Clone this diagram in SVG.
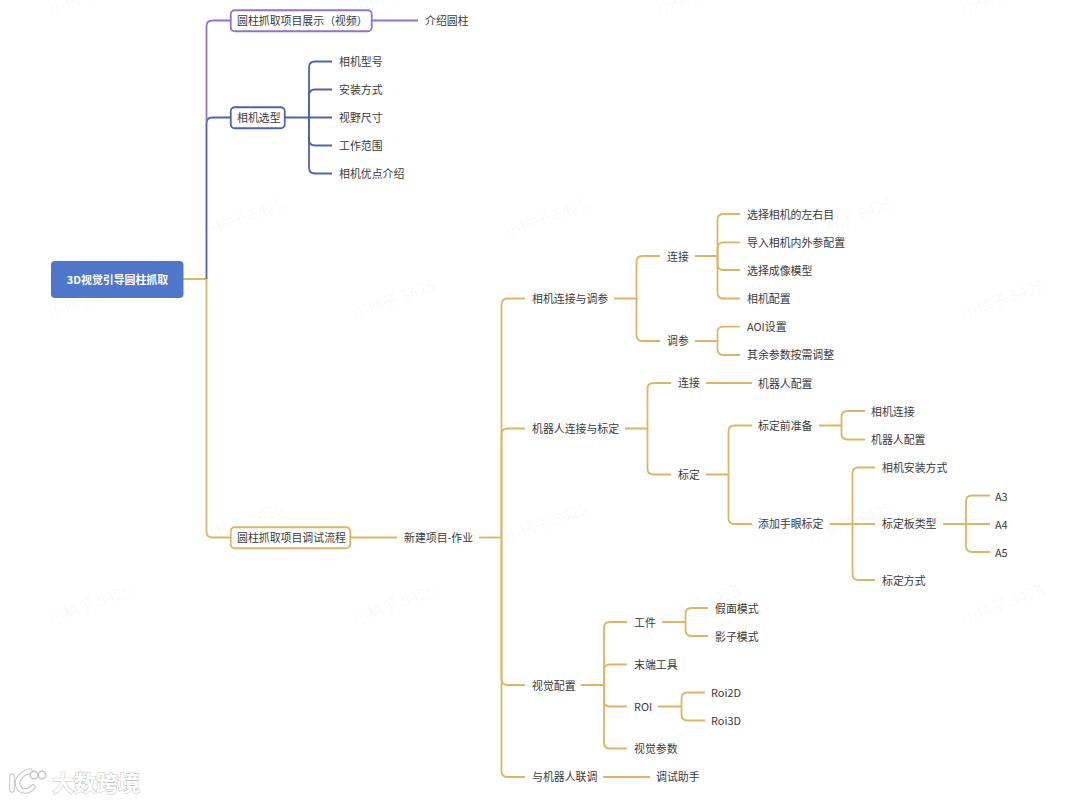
<svg xmlns="http://www.w3.org/2000/svg" width="1080" height="803" viewBox="0 0 1080 803">
<style>
text{font-family:"Noto Sans CJK SC","Noto Sans",sans-serif;font-size:10.9px;fill:#3a3a3a}
.root{font-size:10.9px;font-weight:700;fill:#fff;text-anchor:middle}
.wm{font-size:16px;fill:#000;fill-opacity:.04}
.e{fill:none;stroke-width:1.8;stroke:#dcb661}
.p{stroke:#9273c9}.b{stroke:#5062aa}
.box{fill:#fff;stroke-width:1.8}
.brand{font-size:22px;font-weight:700;fill:#fff;stroke:#c4c4c4;stroke-width:1.1;paint-order:stroke}
.lg{fill:none;stroke-linecap:round}
</style>
<rect width="1080" height="803" fill="#fff"/>
<g id="watermarks">
<text class="wm" transform="translate(51,15) rotate(-20)">小橘子 8425</text>
<text class="wm" transform="translate(355,15) rotate(-20)">小橘子 8425</text>
<text class="wm" transform="translate(660,15) rotate(-20)">小橘子 8425</text>
<text class="wm" transform="translate(964,15) rotate(-20)">小橘子 8425</text>
<text class="wm" transform="translate(203,238) rotate(-20)">小橘子 8425</text>
<text class="wm" transform="translate(507,238) rotate(-20)">小橘子 8425</text>
<text class="wm" transform="translate(812,238) rotate(-20)">小橘子 8425</text>
<text class="wm" transform="translate(51,320) rotate(-20)">小橘子 8425</text>
<text class="wm" transform="translate(355,320) rotate(-20)">小橘子 8425</text>
<text class="wm" transform="translate(964,320) rotate(-20)">小橘子 8425</text>
<text class="wm" transform="translate(203,543) rotate(-20)">小橘子 8425</text>
<text class="wm" transform="translate(507,543) rotate(-20)">小橘子 8425</text>
<text class="wm" transform="translate(812,543) rotate(-20)">小橘子 8425</text>
<text class="wm" transform="translate(51,625) rotate(-20)">小橘子 8425</text>
<text class="wm" transform="translate(355,625) rotate(-20)">小橘子 8425</text>
<text class="wm" transform="translate(660,625) rotate(-20)">小橘子 8425</text>
<text class="wm" transform="translate(964,625) rotate(-20)">小橘子 8425</text>
</g>
<g id="connectors">
<path class="e" d="M183 279H206.5V532Q206.500 537.500 212.500 537.500H231"/>
<path class="e b" d="M206.500 279V123.500Q206.500 117.500 212.500 117.500H231"/>
<path class="e p" d="M206.500 123V26.500Q206.500 20.500 212.500 20.500H231"/>
<path class="e p" d="M372 20.500H418"/>
<path class="e b" d="M285 117.500H332"/>
<path class="e b" d="M309 117.500V67.500Q309 61.500 315 61.500H332"/>
<path class="e b" d="M309 117.500V95.500Q309 89.500 315 89.500H332"/>
<path class="e b" d="M309 117.500V139.500Q309 145.500 315 145.500H332"/>
<path class="e b" d="M309 117.500V167.500Q309 173.500 315 173.500H332"/>
<path class="e" d="M350 537.500H397"/>
<path class="e" d="M479 537.500H501.500"/>
<path class="e" d="M501.500 537.500V304.500Q501.500 298.500 507.500 298.500H525"/>
<path class="e" d="M501.500 537.500V434.500Q501.500 428.500 507.500 428.500H525"/>
<path class="e" d="M501.500 537.500V679Q501.500 685 507.500 685H525"/>
<path class="e" d="M501.500 537.500V771Q501.500 777 507.500 777H525"/>
<path class="e" d="M614 298.500H636.500V262Q636.500 256 642.500 256H660"/>
<path class="e" d="M636.500 298.500V335Q636.500 341 642.500 341H660"/>
<path class="e" d="M695 256H717.500V220Q717.500 214 723.500 214H740"/>
<path class="e" d="M717.500 256V248.300Q717.500 242.300 723.500 242.300H740"/>
<path class="e" d="M717.500 256V264Q717.500 270 723.500 270H740"/>
<path class="e" d="M717.500 256V292.500Q717.500 298.500 723.500 298.500H740"/>
<path class="e" d="M695 341H717.500V332.700Q717.500 326.700 723.500 326.700H740"/>
<path class="e" d="M717.500 341V349Q717.500 355 723.500 355H740"/>
<path class="e" d="M625 428.500H647.500V389Q647.500 383 653.500 383H671"/>
<path class="e" d="M647.500 428.500V468.500Q647.500 474.500 653.500 474.500H671"/>
<path class="e" d="M706 383H752"/>
<path class="e" d="M706 474.500H728.500V431.500Q728.500 425.500 734.500 425.500H752"/>
<path class="e" d="M728.500 474.500V518Q728.500 524 734.500 524H752"/>
<path class="e" d="M819 425.500H841.500V417Q841.500 411 847.500 411H865"/>
<path class="e" d="M841.500 425.500V433.500Q841.500 439.500 847.500 439.500H865"/>
<path class="e" d="M830 524H875"/>
<path class="e" d="M852.500 524V473.500Q852.500 467.500 858.500 467.500H875"/>
<path class="e" d="M852.500 524V574Q852.500 580 858.500 580H875"/>
<path class="e" d="M943 524H990"/>
<path class="e" d="M966 524V501.500Q966 495.500 972 495.500H990"/>
<path class="e" d="M966 524V546Q966 552 972 552H990"/>
<path class="e" d="M581 685H604V628Q604 622 610 622H627"/>
<path class="e" d="M604 685V670.500Q604 664.500 610 664.500H627"/>
<path class="e" d="M604 685V700.500Q604 706.500 610 706.500H627"/>
<path class="e" d="M604 685V742.500Q604 748.500 610 748.500H627"/>
<path class="e" d="M662 622H685.500V614Q685.500 608 691.500 608H708"/>
<path class="e" d="M685.500 622V630Q685.500 636 691.500 636H708"/>
<path class="e" d="M658 706.500H681.500V698.500Q681.500 692.500 687.500 692.500H705"/>
<path class="e" d="M681.500 706.500V714.500Q681.500 720.500 687.500 720.500H705"/>
<path class="e" d="M603 777H650"/>
</g>
<g id="n-root"><rect x="51" y="261" width="132.500" height="37" rx="4" fill="#4f77c9"/><text class="root" x="117.500" y="283.500">3D视觉引导圆柱抓取</text></g>
<g id="n-video"><rect class="box" x="230.750" y="10.250" width="141" height="21" rx="4" stroke="#9273c9"/><text x="237" y="25">圆柱抓取项目展示（视频）</text></g>
<g id="n-video-1"><text x="425" y="25">介绍圆柱</text></g>
<g id="n-camera"><rect class="box" x="230.750" y="107.250" width="54" height="21" rx="4" stroke="#5062aa"/><text x="237" y="122">相机选型</text></g>
<g id="n-camera-1"><text x="339" y="66">相机型号</text></g>
<g id="n-camera-2"><text x="339" y="94">安装方式</text></g>
<g id="n-camera-3"><text x="339" y="122">视野尺寸</text></g>
<g id="n-camera-4"><text x="339" y="150">工作范围</text></g>
<g id="n-camera-5"><text x="339" y="178">相机优点介绍</text></g>
<g id="n-debug"><rect class="box" x="230.750" y="527.250" width="119.500" height="21" rx="4" stroke="#dcb661"/><text x="237" y="542">圆柱抓取项目调试流程</text></g>
<g id="n-new"><text x="404" y="542">新建项目-作业</text></g>
<g id="n-a"><text x="532" y="303">相机连接与调参</text></g>
<g id="n-a1"><text x="667" y="261">连接</text></g>
<g id="n-a11"><text x="747" y="219">选择相机的左右目</text></g>
<g id="n-a12"><text x="747" y="247">导入相机内外参配置</text></g>
<g id="n-a13"><text x="747" y="275">选择成像模型</text></g>
<g id="n-a14"><text x="747" y="303">相机配置</text></g>
<g id="n-a2"><text x="667" y="345">调参</text></g>
<g id="n-a21"><text x="747" y="331">AOI设置</text></g>
<g id="n-a22"><text x="747" y="359">其余参数按需调整</text></g>
<g id="n-b"><text x="532" y="433">机器人连接与标定</text></g>
<g id="n-b1"><text x="678" y="387">连接</text></g>
<g id="n-b11"><text x="758" y="387.500">机器人配置</text></g>
<g id="n-b2"><text x="678" y="479">标定</text></g>
<g id="n-b21"><text x="758" y="430">标定前准备</text></g>
<g id="n-b211"><text x="871" y="415.500">相机连接</text></g>
<g id="n-b212"><text x="871" y="443.500">机器人配置</text></g>
<g id="n-b22"><text x="758" y="528">添加手眼标定</text></g>
<g id="n-b221"><text x="882" y="472">相机安装方式</text></g>
<g id="n-b222"><text x="882" y="528">标定板类型</text></g>
<g id="n-b2221"><text x="995" y="500.500">A3</text></g>
<g id="n-b2222"><text x="995" y="528.500">A4</text></g>
<g id="n-b2223"><text x="995" y="556.500">A5</text></g>
<g id="n-b223"><text x="882" y="585">标定方式</text></g>
<g id="n-c"><text x="532" y="690">视觉配置</text></g>
<g id="n-c1"><text x="634" y="627">工件</text></g>
<g id="n-c11"><text x="715" y="613">假面模式</text></g>
<g id="n-c12"><text x="715" y="641">影子模式</text></g>
<g id="n-c2"><text x="634" y="669">末端工具</text></g>
<g id="n-c3"><text x="634" y="711">ROI</text></g>
<g id="n-c31"><text x="711" y="697">Roi2D</text></g>
<g id="n-c32"><text x="711" y="725">Roi3D</text></g>
<g id="n-c4"><text x="634" y="753">视觉参数</text></g>
<g id="n-d"><text x="532" y="781">与机器人联调</text></g>
<g id="n-d1"><text x="656" y="781">调试助手</text></g>
<g id="brand">
<g class="lg" stroke="#c4c4c4" stroke-width="5.500"><path d="M12 776V790"/><path d="M30 771C20 774 16 780 18 786C20 792 28 793 33 787"/></g>
<g class="lg" stroke="#fff" stroke-width="3.500"><path d="M12 776V790"/><path d="M30 771C20 774 16 780 18 786C20 792 28 793 33 787"/></g>
<circle cx="34" cy="775" r="3.800" fill="#fff" stroke="#c4c4c4" stroke-width="1.500"/>
<circle cx="42" cy="775" r="3.800" fill="#fff" stroke="#c4c4c4" stroke-width="1.500"/>
<text class="brand" x="52" y="791">大数跨境</text>
</g>
</svg>
